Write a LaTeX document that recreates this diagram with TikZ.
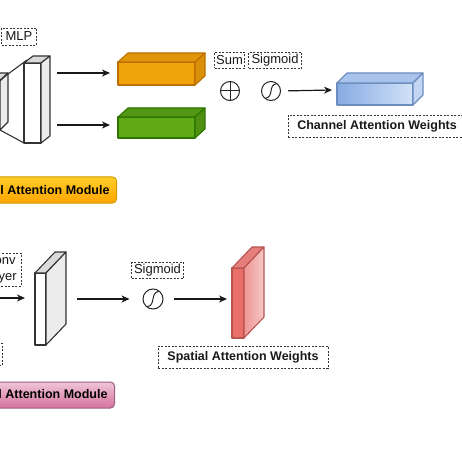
\documentclass[tikz,border=0pt]{standalone}
\usepackage{fontspec}
\setmainfont{Liberation Sans}
\usetikzlibrary{arrows.meta,calc}
\definecolor{strokeC}{HTML}{333333}
\definecolor{orF}{HTML}{F0A30A}\definecolor{orT}{HTML}{E0960A}\definecolor{orS}{HTML}{D98F08}\definecolor{orD}{HTML}{BD7000}
\definecolor{grF}{HTML}{60A917}\definecolor{grT}{HTML}{539614}\definecolor{grS}{HTML}{4F9012}\definecolor{grD}{HTML}{2D7600}
\definecolor{blL}{HTML}{86ABE2}\definecolor{blR}{HTML}{D2E2F8}\definecolor{blT}{HTML}{A9C4EC}\definecolor{blS}{HTML}{C2D6F3}\definecolor{blD}{HTML}{6C8EBF}
\definecolor{rdF}{HTML}{EA6E69}\definecolor{rdL}{HTML}{EE9593}\definecolor{rdR}{HTML}{F6C9C7}\definecolor{rdT}{HTML}{E47F7C}\definecolor{rdD}{HTML}{B85450}
\definecolor{gyS}{HTML}{ECECEC}\definecolor{gyT}{HTML}{DADADA}
\definecolor{oyT}{HTML}{FFCD28}\definecolor{oyB}{HTML}{FFA500}\definecolor{oyD}{HTML}{D79B00}
\definecolor{pkT}{HTML}{F0C4D8}\definecolor{pkB}{HTML}{D5739D}\definecolor{pkD}{HTML}{996185}
\newcommand\mycube[7]{% x1 y1 x2 y2 dx dy prefix
  \draw[#7front] (#1,#2) rectangle (#3,#4);
  \draw[#7top] (#1,#2) -- ({#1+#5},{#2+#6}) -- ({#3+#5},{#2+#6}) -- (#3,#2) -- cycle;
  \draw[#7side] (#3,#2) -- ({#3+#5},{#2+#6}) -- ({#3+#5},{#4+#6}) -- (#3,#4) -- cycle;
}
\tikzset{
  face/.style={line width=1.1pt, line join=round},
  wfront/.style={face, draw=strokeC, fill=white},
  wtop/.style={face, draw=strokeC, fill=gyT},
  wside/.style={face, draw=strokeC, fill=gyS},
  ofront/.style={face, draw=orD, fill=orF},
  otop/.style={face, draw=orD, fill=orT},
  oside/.style={face, draw=orD, fill=orS},
  gfront/.style={face, draw=grD, fill=grF},
  gtop/.style={face, draw=grD, fill=grT},
  gside/.style={face, draw=grD, fill=grS},
  bfront/.style={face, draw=blD, left color=blL, right color=blR},
  btop/.style={face, draw=blD, fill=blT},
  bside/.style={face, draw=blD, fill=blS},
  rfront/.style={face, draw=rdD, fill=rdF},
  rtop/.style={face, draw=rdD, fill=rdT},
  rside/.style={face, draw=rdD, left color=rdL, right color=rdR},
  lbl/.style={draw=strokeC, dash pattern=on 2pt off 1.5pt, line width=0.9pt, inner sep=0pt,
    font=\fontsize{13}{16}\selectfont, text=black!90, align=center},
  wlbl/.style={lbl, font=\fontsize{12.5}{16}\selectfont\bfseries},
  op/.style={circle, draw=black!85, line width=1pt, inner sep=0pt},
  arr/.style={-{Stealth[length=8pt,width=7pt,inset=2.5pt]}, line width=1.2pt, draw=black!90},
  module/.style={rounded corners=4pt, line width=1pt, inner xsep=7pt, minimum height=26pt,
    font=\fontsize{12.5}{15}\selectfont\bfseries, anchor=east}
}
\begin{document}
\begin{tikzpicture}[x=1pt,y=-1pt]
\useasboundingbox (0,0) rectangle (462,462);
\clip (0,0) rectangle (462,462);
\fill[white] (0,0) rectangle (462,462);

% ---- Channel attention branch ----
\node[lbl, minimum width=35pt, minimum height=17pt] (mlp) at (19,36.5) {MLP};
\mycube{-25}{81}{0}{130}{8}{-8}{w}
\mycube{24}{63}{41}{143}{9}{-7}{w}
\draw[face, draw=strokeC] (0,80) -- (27,60);
\draw[face, draw=strokeC] (0,130) -- (24,143);

\mycube{118}{62}{195}{85}{10}{-9}{o}
\mycube{118}{117}{195}{138}{10}{-9}{g}
\coordinate (a1s) at (57,73);  \coordinate (a1e) at (110,73);
\coordinate (a2s) at (57,125); \coordinate (a2e) at (110,125);
\draw[arr] (a1s) -- (a1e);
\draw[arr] (a2s) -- (a2e);

\node[lbl, minimum width=30pt, minimum height=16pt] (sumlbl) at (229.5,60.5) {Sum};
\node[lbl, minimum width=53pt, minimum height=16pt] (siglbl) at (275,60.5) {Sigmoid};
\node[op, minimum size=19pt] (sum) at (230,91) {};
\draw[line width=1pt, black!85] (sum.north) -- (sum.south) (sum.west) -- (sum.east);
\node[op, minimum size=19pt] (sig1) at (271,91) {};
\draw[line width=1pt, black!85] ($(sig1.center)+(-5.5,7.2)$) .. controls ($(sig1.center)+(3,6.5)$) and ($(sig1.center)+(-3,-6.5)$) .. ($(sig1.center)+(5.5,-7.2)$);

\mycube{337}{83}{413}{105}{10}{-10}{b}
\coordinate (blueIn) at (332,90);
\draw[arr, shorten <=7pt] (sig1.east) -- (blueIn);
\node[wlbl, minimum width=178pt, minimum height=22pt] (cw) at (377,126) {Channel Attention Weights};

\node[module, draw=oyD, top color=oyT, bottom color=oyB] (cam) at (117,190) {Channel Attention Module};

% ---- Spatial attention branch ----
\node[lbl, minimum width=41pt, minimum height=33pt] (conv) at (0.5,269.5) {Conv\\Layer};
\coordinate (c0) at (-30,298); \coordinate (c1) at (25,298);
\draw[arr] (c0) -- (c1);
\draw[lbl] (-60,343) rectangle (2,365);

\mycube{35}{273}{46}{345}{20}{-21}{w}
\node[op, minimum size=20pt] (sig2) at (153,299) {};
\draw[line width=1pt, black!85] ($(sig2.center)+(-5.8,7.6)$) .. controls ($(sig2.center)+(3,6.8)$) and ($(sig2.center)+(-3,-6.8)$) .. ($(sig2.center)+(5.8,-7.6)$);
\node[lbl, minimum width=52pt, minimum height=16pt] (sig2lbl) at (157.5,270.5) {Sigmoid};
\coordinate (s1) at (77,299);
\draw[arr, shorten >=13pt] (s1) -- (sig2.west);
\coordinate (redIn) at (227,299);
\draw[arr, shorten <=10pt] (sig2.east) -- (redIn);

\mycube{232}{268}{244}{338}{20}{-21}{r}
\node[wlbl, minimum width=170pt, minimum height=22pt] (sw) at (243,357) {Spatial Attention Weights};

\node[module, draw=pkD, top color=pkT, bottom color=pkB] (sam) at (115,395) {Spatial Attention Module};
\end{tikzpicture}
\end{document}
